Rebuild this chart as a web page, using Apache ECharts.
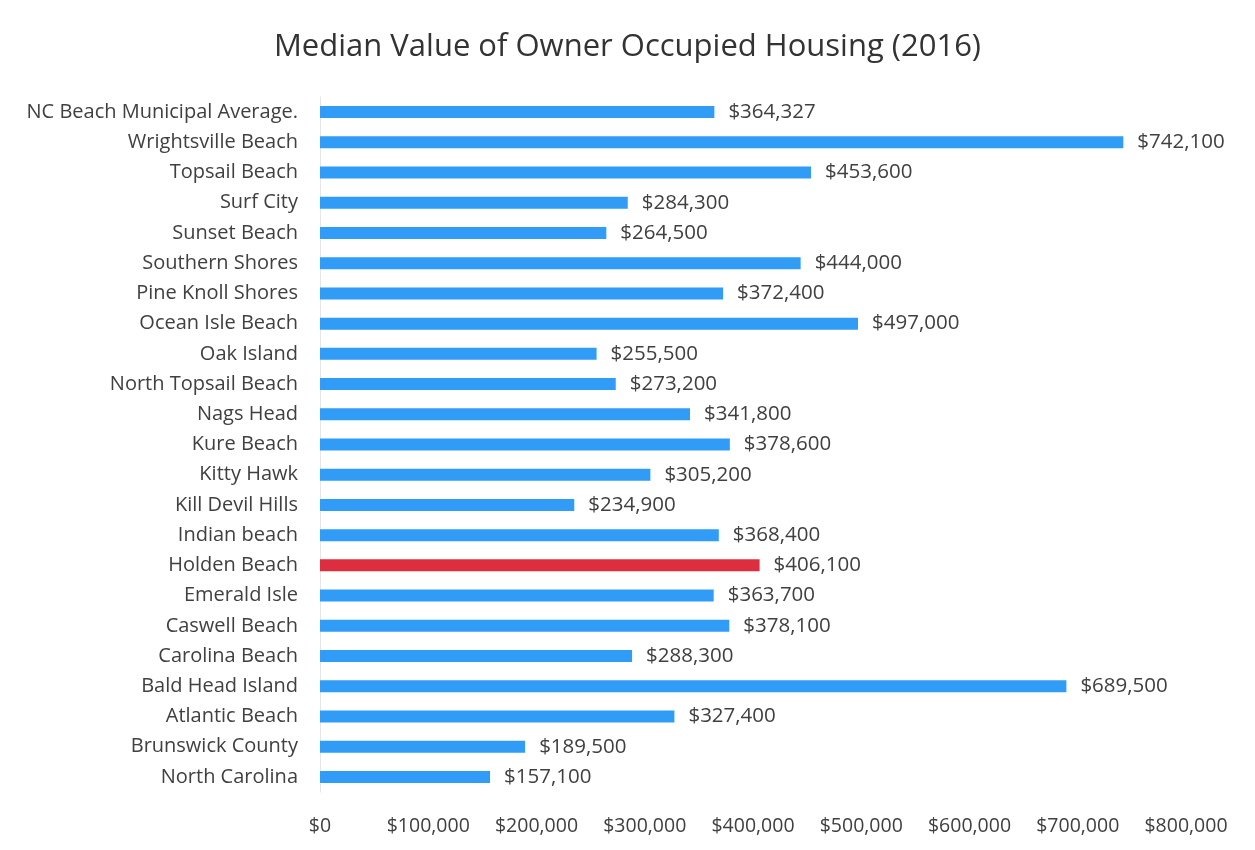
<!DOCTYPE html>
<html>
<head>
<meta charset="utf-8">
<script src="https://cdn.jsdelivr.net/npm/echarts@6/dist/echarts.min.js"></script>
<style>
  html, body { margin: 0; padding: 0; background: #fff; }
  #chart { width: 1255px; height: 850px; }
</style>
</head>
<body>
<div id="chart"></div>
<script>
// places, listed bottom to top as the y axis draws them
const places = [
  'North Carolina', 'Brunswick County', 'Atlantic Beach', 'Bald Head Island',
  'Carolina Beach', 'Caswell Beach', 'Emerald Isle', 'Holden Beach',
  'Indian beach', 'Kill Devil Hills', 'Kitty Hawk', 'Kure Beach', 'Nags Head',
  'North Topsail Beach', 'Oak Island', 'Ocean Isle Beach', 'Pine Knoll Shores',
  'Southern Shores', 'Sunset Beach', 'Surf City', 'Topsail Beach',
  'Wrightsville Beach', 'NC Beach Municipal Average.'
]
const medianValues = [
  157100, 189500, 327400, 689500, 288300, 378100, 363700, 406100,
  368400, 234900, 305200, 378600, 341800, 273200, 255500, 497000, 372400,
  444000, 264500, 284300, 453600, 742100, 364327
]
const highlightPlace = 'Holden Beach'

const blue = '#319cf6'
const red = '#dc2e3f'
const textColor = '#404040'
const font = '"Open Sans", "Noto Sans", sans-serif'

const money = v => '$' + v.toLocaleString('en-US')

const chart = echarts.init(document.getElementById('chart'))
chart.setOption({
  animation: false,
  title: {
    text: 'Median Value of Owner Occupied Housing (2016)',
    left: 'center',
    top: 27,
    textStyle: { fontFamily: font, fontSize: 31, fontWeight: 'normal', color: '#333' }
  },
  grid: { left: 320, right: 69, top: 97, bottom: 58, containLabel: false },
  xAxis: {
    type: 'value',
    min: 0,
    max: 800000,
    interval: 100000,
    splitLine: { show: false },
    axisLine: { show: false },
    axisTick: { show: false },
    axisLabel: {
      formatter: money,
      margin: 24,
      fontFamily: font,
      fontSize: 19.5,
      color: textColor
    }
  },
  yAxis: {
    type: 'category',
    data: places,
    axisLine: { show: true, lineStyle: { color: '#e6e6e6' } },
    axisTick: { show: false },
    axisLabel: {
      margin: 22,
      fontFamily: font,
      fontSize: 20,
      color: textColor
    }
  },
  series: [{
    type: 'bar',
    barWidth: 12,
    data: medianValues.map((v, i) => ({
      value: v,
      itemStyle: { color: places[i] === highlightPlace ? red : blue }
    })),
    label: {
      show: true,
      position: 'right',
      distance: 14,
      formatter: p => money(p.value),
      fontFamily: font,
      fontSize: 20.5,
      color: textColor
    }
  }]
})
</script>
</body>
</html>
